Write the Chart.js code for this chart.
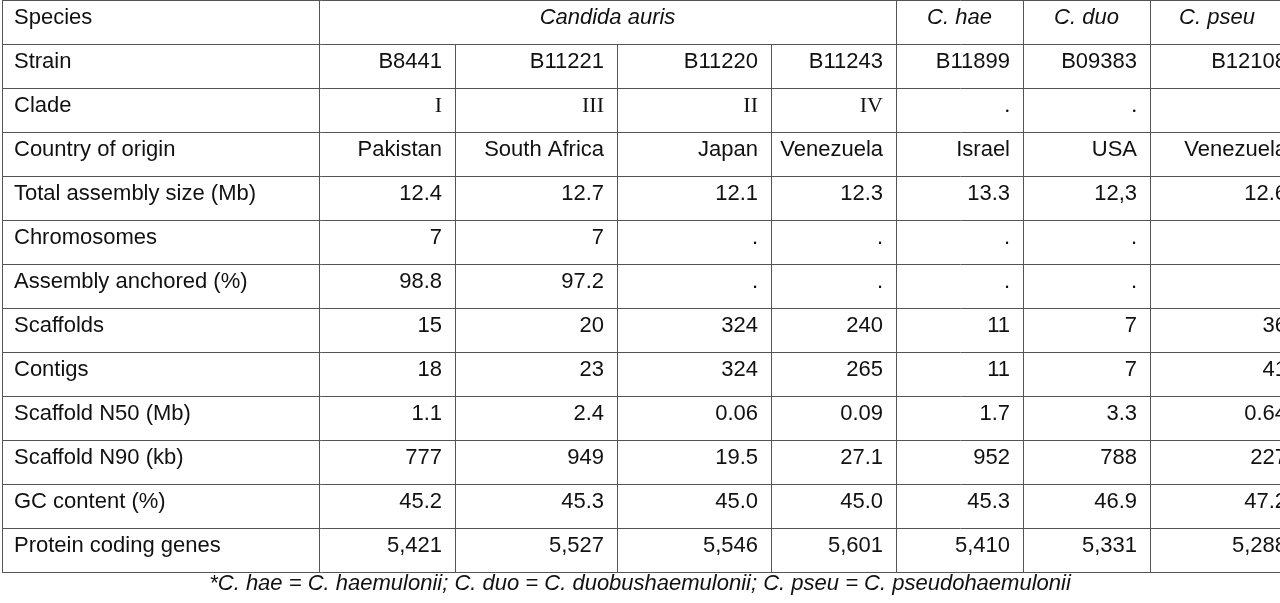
<!DOCTYPE html>
<html><head><meta charset="utf-8">
<script src="https://cdn.jsdelivr.net/npm/chart.js@4/dist/chart.umd.min.js"></script>
<style>html,body{margin:0;padding:0;background:#fff}#w{width:1280px;height:603px}</style>
</head><body><div id="w"><canvas id="c"></canvas></div>
<script>
const rowLabels = ["Species","Strain","Clade","Country of origin","Total assembly size (Mb)","Chromosomes","Assembly anchored (%)","Scaffolds","Contigs","Scaffold N50 (Mb)","Scaffold N90 (kb)","GC content (%)","Protein coding genes"];
const strains = ["B8441","B11221","B11220","B11243","B11899","B09383","B12108"];
const clades = ["I","III","II","IV",".",".",""];
const countries = ["Pakistan","South Africa","Japan","Venezuela","Israel","USA","Venezuela"];
const assemblySize = ["12.4","12.7","12.1","12.3","13.3","12,3","12.6"];
const chromosomes = ["7","7",".",".",".",".",""];
const anchored = ["98.8","97.2",".",".",".",".",""];
const scaffolds = ["15","20","324","240","11","7","36"];
const contigs = ["18","23","324","265","11","7","41"];
const n50 = ["1.1","2.4","0.06","0.09","1.7","3.3","0.64"];
const n90 = ["777","949","19.5","27.1","952","788","227"];
const gc = ["45.2","45.3","45.0","45.0","45.3","46.9","47.2"];
const genes = ["5,421","5,527","5,546","5,601","5,410","5,331","5,288"];
const species = [{t:"Candida auris",from:0,to:3},{t:"C. hae",from:4,to:4},{t:"C. duo",from:5,to:5},{t:"C. pseu",from:6,to:6}];
const footnote = "*C. hae = C. haemulonii; C. duo = C. duobushaemulonii; C. pseu = C. pseudohaemulonii";
const body = [null,strains,clades,countries,assemblySize,chromosomes,anchored,scaffolds,contigs,n50,n90,gc,genes];
const colEdges = [2,319,455,617,771,896,1023,1150,1300];

const tablePlugin = {id:'table', afterDraw(chart){
  const ctx=chart.ctx, y=chart.scales.y, a=chart.chartArea;
  const rowH = (a.bottom-a.top)/rowLabels.length;
  ctx.save();
  ctx.strokeStyle="#555"; ctx.lineWidth=1;
  for(let i=0;i<=rowLabels.length;i++){const yy=Math.round(a.top+i*rowH)+0.5;ctx.beginPath();ctx.moveTo(colEdges[0],yy);ctx.lineTo(1280,yy);ctx.stroke();}
  colEdges.forEach((x,ci)=>{
    for(let r=0;r<rowLabels.length;r++){
      if(r===0 && [2,3,4].includes(ci)) continue;
      const xx=x+0.5; ctx.beginPath(); ctx.moveTo(xx,a.top+r*rowH); ctx.lineTo(xx,a.top+(r+1)*rowH); ctx.stroke();
    }
  });
  ctx.fillStyle="#111"; ctx.textBaseline="middle";
  const F="22px 'Liberation Sans', Arial, sans-serif";
  rowLabels.forEach((lab,r)=>{
    const cy=y.getPixelForValue(r)-4;
    ctx.font=F; ctx.textAlign="left";
    ctx.fillText(lab,14,cy);
    if(r===0){
      ctx.font="italic "+F; ctx.textAlign="center";
      species.forEach(s=>ctx.fillText(s.t,(colEdges[s.from+1]+colEdges[s.to+2])/2 - (s.to===6?8:0),cy));
      return;
    }
    ctx.textAlign="right";
    ctx.font = r===2 ? "22px 'Liberation Serif', 'Times New Roman', serif" : F;
    body[r].forEach((v,c)=>ctx.fillText(v,colEdges[c+2]-13,cy));
  });
  ctx.font="italic "+F; ctx.textAlign="center";
  ctx.fillText(footnote,640,a.bottom+12);
  ctx.restore();
}};

new Chart(document.getElementById('c'),{
  type:'scatter',
  data:{labels:rowLabels,datasets:[{data:[]}]},
  options:{responsive:true,maintainAspectRatio:false,animation:false,
    layout:{padding:{top:0,bottom:31,left:0,right:0}},
    plugins:{legend:{display:false},tooltip:{enabled:false}},
    scales:{
      x:{type:'linear',min:0,max:1,display:false},
      y:{type:'category',labels:rowLabels,offset:true,display:false}
    }},
  plugins:[tablePlugin]
});
</script></body></html>
